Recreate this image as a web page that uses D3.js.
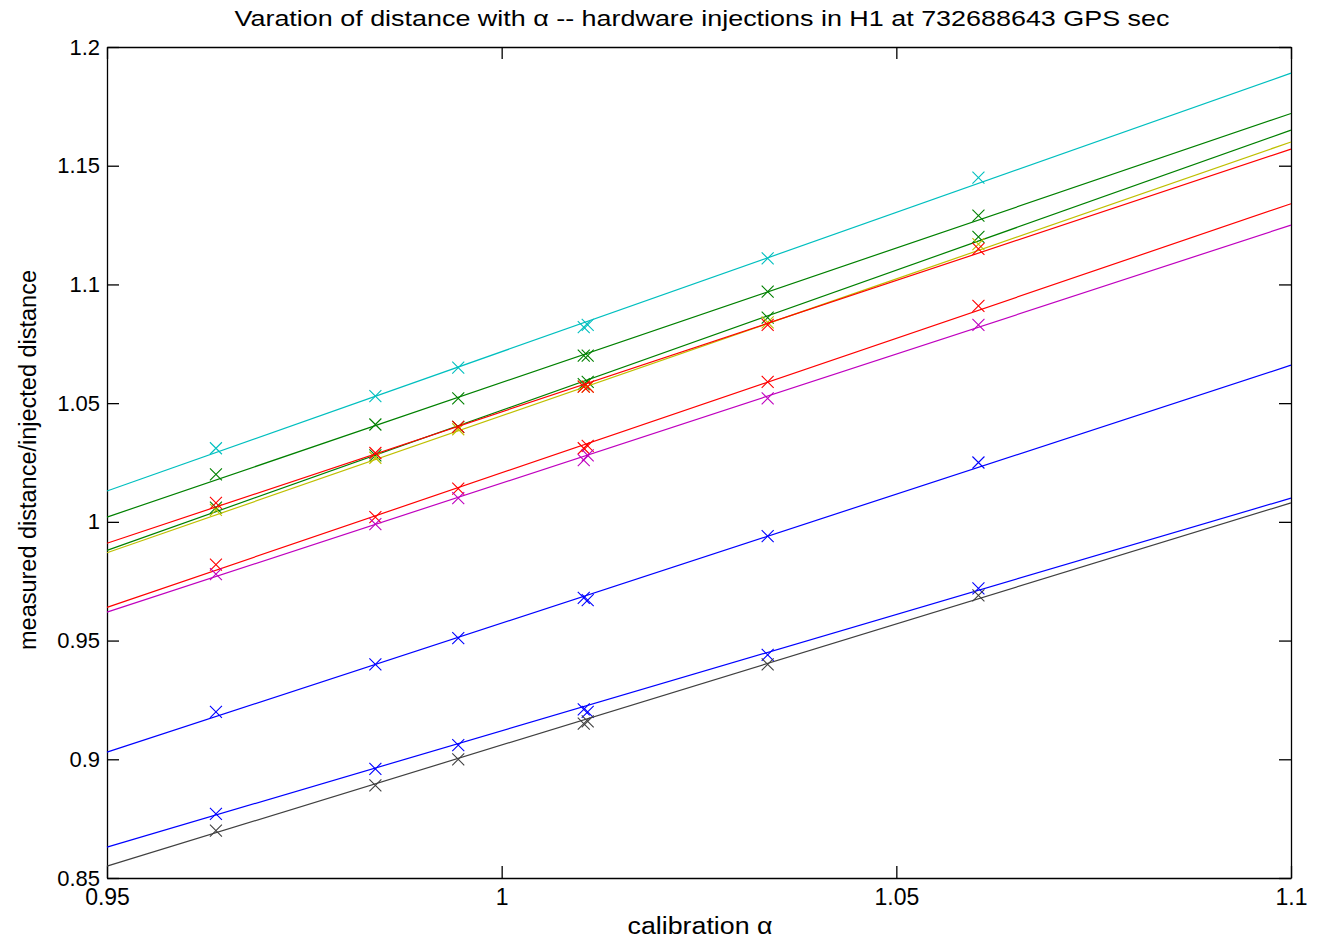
<!DOCTYPE html>
<html>
<head>
<meta charset="utf-8">
<script src="https://cdn.jsdelivr.net/npm/d3@7"></script>
<style>
  body { margin: 0; background: #fff; }
  text { font-family: "Liberation Sans", Arial, sans-serif; fill: #000; }
</style>
</head>
<body>
<div id="chart"></div>
<script>
var svgWidth = 1326;
var svgHeight = 939;

var margin = { top: 47, right: 35, bottom: 61, left: 107 };
var plotWidth = svgWidth - margin.left - margin.right;
var plotHeight = svgHeight - margin.top - margin.bottom;

// calibration alpha values where injections were measured
var alphas = [0.9638, 0.9840, 0.9945, 1.0104, 1.0109, 1.0337, 1.0604];

// measured/injected distance per injection
var cyanVals    = [1.031, 1.053, 1.065, 1.082, 1.083, 1.111, 1.145];
var green1Vals  = [1.020, 1.041, 1.052, 1.070, 1.070, 1.097, 1.129];
var green2Vals  = [1.006, 1.028, 1.040, 1.058, 1.059, 1.086, 1.120];
var yellowVals  = [1.005, 1.027, 1.039, 1.057, 1.057, 1.084, 1.117];
var red1Vals    = [1.008, 1.029, 1.040, 1.057, 1.057, 1.083, 1.115];
var red2Vals    = [0.982, 1.002, 1.014, 1.031, 1.032, 1.059, 1.091];
var magentaVals = [0.978, 0.999, 1.010, 1.026, 1.028, 1.052, 1.083];
var blue1Vals   = [0.920, 0.940, 0.951, 0.968, 0.967, 0.994, 1.025];
var blue2Vals   = [0.877, 0.896, 0.906, 0.921, 0.920, 0.944, 0.972];
var blackVals   = [0.870, 0.889, 0.900, 0.915, 0.916, 0.940, 0.969];

// fitted lines: value at alpha = 0.95 and at alpha = 1.1
var fitLeft  = [1.013, 1.002, 0.988, 0.987, 0.991, 0.964, 0.962, 0.903, 0.863, 0.855];
var fitRight = [1.189, 1.172, 1.165, 1.160, 1.157, 1.134, 1.125, 1.066, 1.010, 1.008];

var xTicks = [0.95, 1, 1.05, 1.1];
var yTicks = [0.85, 0.9, 0.95, 1, 1.05, 1.1, 1.15, 1.2];

var seriesColors = ["#00bfbf", "#008000", "#008000", "#bfbf00", "#ff0000",
                    "#ff0000", "#bf00bf", "#0000ff", "#0000ff", "#404040"];
var allVals = [cyanVals, green1Vals, green2Vals, yellowVals, red1Vals,
               red2Vals, magentaVals, blue1Vals, blue2Vals, blackVals];

var series = allVals.map(function(vals, i) {
  return {
    color: seriesColors[i],
    points: vals.map(function(v, j) { return { a: alphas[j], d: v }; }),
    fit: [{ a: 0.95, d: fitLeft[i] }, { a: 1.1, d: fitRight[i] }]
  };
});

var svg = d3.select("#chart")
  .append("svg")
  .attr("width", svgWidth)
  .attr("height", svgHeight);

var plot = svg.append("g")
  .attr("transform", `translate(${margin.left}, ${margin.top})`);

var xScale = d3.scaleLinear().domain([0.95, 1.1]).range([0, plotWidth]);
var yScale = d3.scaleLinear().domain([0.85, 1.2]).range([plotHeight, 0]);

var fmt = function(d) { return d3.format("")(+d.toFixed(2)); };

// axes, ticks pointing inward on all four sides
var bottomAxis = plot.append("g")
  .attr("transform", `translate(0, ${plotHeight})`)
  .call(d3.axisBottom(xScale).tickValues(xTicks).tickSizeInner(-12).tickSizeOuter(0)
    .tickPadding(10).tickFormat(fmt));
bottomAxis.selectAll("text").attr("font-size", "23px").attr("dy", "0.75em");

plot.append("g")
  .call(d3.axisTop(xScale).tickValues(xTicks).tickSizeInner(-12).tickSizeOuter(0)
    .tickFormat(""));

var leftAxis = plot.append("g")
  .call(d3.axisLeft(yScale).tickValues(yTicks).tickSizeInner(-12).tickSizeOuter(0)
    .tickPadding(7).tickFormat(fmt));
leftAxis.selectAll("text").attr("font-size", "22px");

plot.append("g")
  .attr("transform", `translate(${plotWidth}, 0)`)
  .call(d3.axisRight(yScale).tickValues(yTicks).tickSizeInner(-12).tickSizeOuter(0)
    .tickFormat(""));

plot.selectAll(".domain, .tick line").attr("stroke", "#000").attr("stroke-width", 1.3);
plot.selectAll(".tick text").attr("font-family", "Liberation Sans, Arial, sans-serif").attr("fill", "#000");

var line = d3.line()
  .x(function(d) { return xScale(d.a); })
  .y(function(d) { return yScale(d.d); });

var groups = plot.selectAll(".series")
  .data(series)
  .enter()
  .append("g")
  .attr("class", "series");

groups.append("path")
  .attr("d", function(d) { return line(d.fit); })
  .attr("fill", "none")
  .attr("stroke", function(d) { return d.color; })
  .attr("stroke-width", 1.2);

// x-shaped markers
var m = 6;
groups.selectAll(".mark")
  .data(function(d) { return d.points.map(function(p) { return { p: p, color: d.color }; }); })
  .enter()
  .append("path")
  .attr("class", "mark")
  .attr("d", function(d) {
    var cx = xScale(d.p.a), cy = yScale(d.p.d);
    return `M${cx - m},${cy - m}L${cx + m},${cy + m}M${cx - m},${cy + m}L${cx + m},${cy - m}`;
  })
  .attr("fill", "none")
  .attr("stroke", function(d) { return d.color; })
  .attr("stroke-width", 1.1);

// titles
svg.append("text")
  .attr("x", 702)
  .attr("y", 26)
  .attr("text-anchor", "middle")
  .attr("font-size", "22px")
  .attr("textLength", 935)
  .attr("lengthAdjust", "spacingAndGlyphs")
  .text("Varation of distance with α -- hardware injections in H1 at 732688643 GPS sec");

svg.append("text")
  .attr("x", 700)
  .attr("y", 934)
  .attr("text-anchor", "middle")
  .attr("font-size", "23px")
  .attr("textLength", 145)
  .attr("lengthAdjust", "spacingAndGlyphs")
  .text("calibration α");

svg.append("text")
  .attr("transform", "translate(36, 460) rotate(-90)")
  .attr("text-anchor", "middle")
  .attr("font-size", "23px")
  .attr("textLength", 380)
  .attr("lengthAdjust", "spacingAndGlyphs")
  .text("measured distance/injected distance");
</script>
</body>
</html>
